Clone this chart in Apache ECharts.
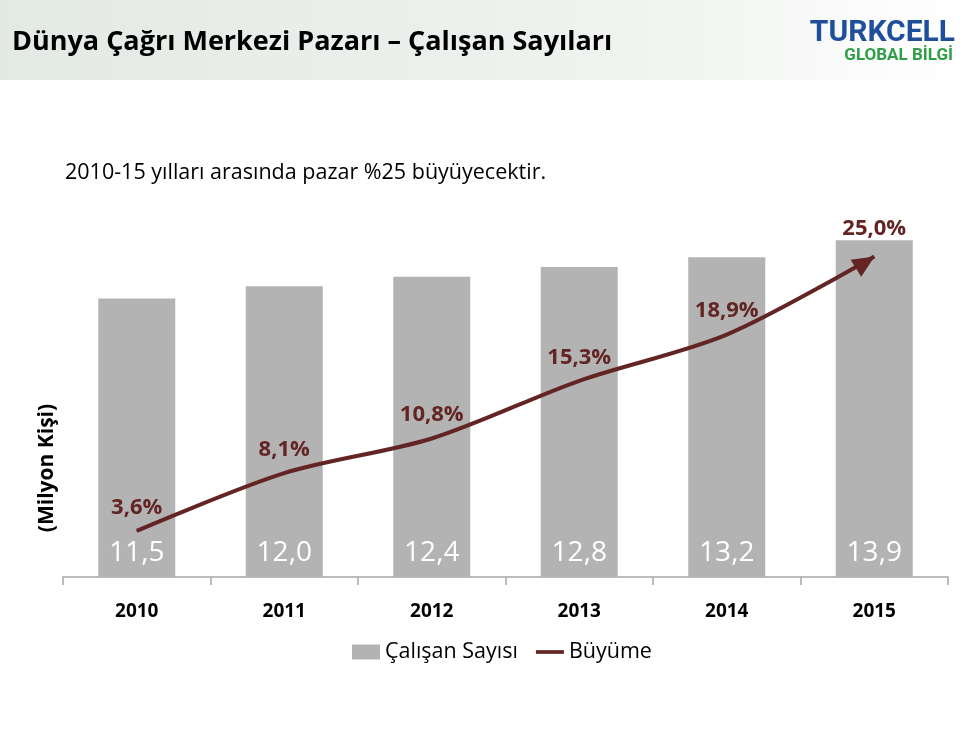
<!DOCTYPE html>
<html>
<head>
<meta charset="utf-8">
<script src="https://cdn.jsdelivr.net/npm/echarts@6/dist/echarts.min.js"></script>
<style>
  html, body { margin: 0; padding: 0; background: #fff; }
  #chart { width: 960px; height: 746px; }
</style>
</head>
<body>
<div id="chart"></div>
<script>
var years = ['2010', '2011', '2012', '2013', '2014', '2015'];
var employees = [11.5, 12.0, 12.4, 12.8, 13.2, 13.9];
var growth = [3.6, 8.1, 10.8, 15.3, 18.9, 25.0];

var barColor = '#b3b3b3';
var lineColor = '#632523';

function comma(value, digits) {
  return Number(value).toFixed(digits).replace('.', ',');
}

var chart = echarts.init(document.getElementById('chart'), null, { renderer: 'canvas' });

// last point carries the arrow head; shift it back so the tip sits on the value
var growthData = growth.map(function (value, index) {
  if (index === growth.length - 1) {
    return {
      value: value,
      symbol: 'triangle',
      symbolSize: [20, 22],
      symbolRotate: -58,
      symbolOffset: [-9, 6],
      label: { offset: [9, 4] }
    };
  }
  return value;
});

chart.setOption({
  backgroundColor: '#ffffff',
  animation: false,
  graphic: [
    {
      type: 'rect',
      shape: { x: 0, y: 0, width: 960, height: 80 },
      style: {
        fill: new echarts.graphic.LinearGradient(0, 0, 1, 0, [
          { offset: 0, color: '#e3e9e4' },
          { offset: 0.7, color: '#f1f4f1' },
          { offset: 1, color: '#ffffff' }
        ])
      },
      z: -10
    },
    {
      type: 'text',
      x: 12, y: 42,
      style: { text: 'Dünya Çağrı Merkezi Pazarı – Çalışan Sayıları', font: 'bold 27px "Open Sans"', fill: '#000', textAlign: 'left', textVerticalAlign: 'middle', align: 'left', verticalAlign: 'middle' }
    },
    {
      type: 'text',
      x: 955, y: 33,
      style: { text: 'TURKCELL', font: 'bold 30px Roboto', fill: '#1f4f9b', textAlign: 'right', textVerticalAlign: 'middle', align: 'right', verticalAlign: 'middle' }
    },
    {
      type: 'text',
      x: 953, y: 56,
      style: { text: 'GLOBAL BİLGİ', font: 'bold 17px Roboto', fill: '#2f9e45', textAlign: 'right', textVerticalAlign: 'middle', align: 'right', verticalAlign: 'middle' }
    },
    {
      type: 'text',
      x: 65, y: 173,
      style: { text: '2010-15 yılları arasında pazar %25 büyüyecektir.', font: '21.5px "Open Sans"', fill: '#000', textAlign: 'left', textVerticalAlign: 'middle', align: 'left', verticalAlign: 'middle' }
    },
    {
      type: 'text',
      x: 47, y: 468,
      rotation: Math.PI / 2,
      style: { text: '(Milyon Kişi)', font: 'bold 21px "Open Sans"', fill: '#000', textAlign: 'center', textVerticalAlign: 'middle', align: 'center', verticalAlign: 'middle' }
    }
  ],
  grid: { left: 63, right: 12, top: 141, bottom: 169 },
  legend: {
    left: 352,
    top: 641,
    padding: 0,
    itemWidth: 28,
    itemHeight: 15,
    itemGap: 18,
    textStyle: { fontFamily: '"Open Sans"', fontSize: 21.5, color: '#000' },
    data: [
      { name: 'Çalışan Sayısı', icon: 'rect' },
      { name: 'Büyüme', icon: 'path://M0,0H30V4H0Z' }
    ]
  },
  xAxis: {
    type: 'category',
    data: years,
    axisLine: { lineStyle: { color: '#a6a6a6', width: 1.5 } },
    axisTick: { show: true, length: 8, lineStyle: { color: '#a6a6a6', width: 1.5 } },
    axisLabel: { margin: 25, fontFamily: '"Open Sans"', fontWeight: 'bold', fontSize: 19, color: '#000' }
  },
  yAxis: [
    { type: 'value', min: 0, max: 18, show: false },
    { type: 'value', min: 0, max: 34, show: false }
  ],
  series: [
    {
      name: 'Çalışan Sayısı',
      type: 'bar',
      yAxisIndex: 0,
      barWidth: 77,
      itemStyle: { color: barColor },
      label: {
        show: true,
        position: 'insideBottom',
        distance: 10,
        color: '#ffffff',
        fontFamily: '"Open Sans"',
        fontSize: 28,
        formatter: function (p) { return comma(p.value, 1); }
      },
      data: employees
    },
    {
      name: 'Büyüme',
      type: 'line',
      yAxisIndex: 1,
      smooth: 0.3,
      symbol: 'circle',
      symbolSize: 1,
      itemStyle: { color: lineColor },
      lineStyle: { color: lineColor, width: 4 },
      label: {
        show: true,
        position: 'top',
        distance: 12,
        color: lineColor,
        fontFamily: '"Open Sans"',
        fontWeight: 'bold',
        fontSize: 22,
        formatter: function (p) { return comma(p.value, 1) + '%'; }
      },
      z: 5,
      data: growthData
    }
  ]
});
</script>
</body>
</html>
